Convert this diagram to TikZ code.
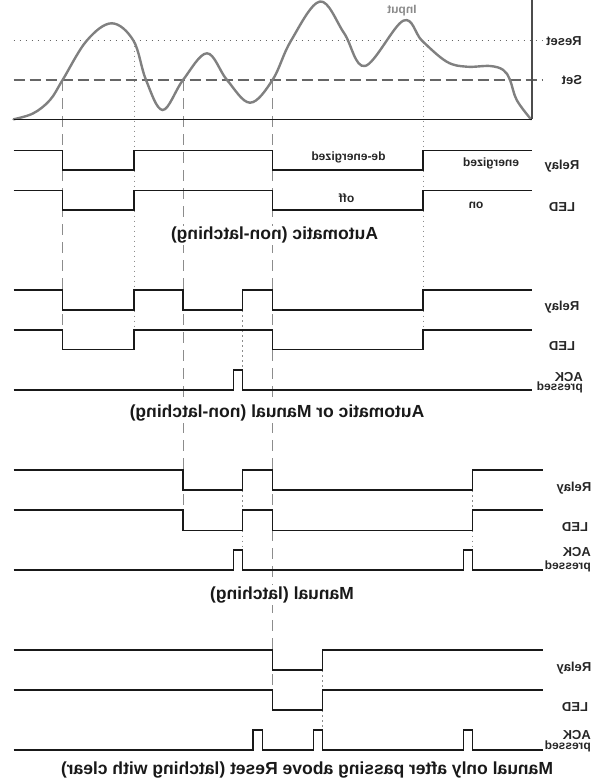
\documentclass[tikz,border=0pt]{standalone}
\usepackage{fontspec}
\setmainfont{Liberation Sans}
\usepackage{graphicx}
\begin{document}
\begin{tikzpicture}[x=1pt,y=-1pt,
  wave/.style={line width=1.5pt, draw=black!90, line join=miter},
  guidedash/.style={draw=black!45, line width=1pt, dash pattern=on 11pt off 7pt},
  guidedot/.style={draw=black!45, line width=1pt, dash pattern=on 1.5pt off 3.5pt},
  lbl/.style={font=\bfseries\fontsize{13}{13}\selectfont, text=black!85, inner sep=1pt},
  small/.style={font=\bfseries\fontsize{12}{12}\selectfont, text=black!85, inner sep=1pt, fill=white},
  captext/.style={font=\bfseries\fontsize{17.5}{18}\selectfont, fill=white, inner sep=1.5pt, text=black!90}]
\path[use as bounding box] (0,0) rectangle (610,784);

% thresholds and axis
\draw[draw=black!60, line width=1pt, dash pattern=on 1.5pt off 4.5pt] (13.5,40.7) -- (543,40.7);
\draw[draw=black!60, line width=1.4pt, dash pattern=on 11pt off 5pt] (13.5,80) -- (543,80);

% vertical guides
\draw[guidedash] (62.6,80) -- (62.6,330);
\draw[guidedot] (134,40.7) -- (134,330);
\draw[guidedash] (183,80) -- (183,510);
\draw[guidedash] (272.5,80) -- (272.5,690);
\draw[guidedot] (423,40.7) -- (423,330);
\draw[guidedot] (242.7,310) -- (242.7,370);
\draw[guidedot] (242.7,490) -- (242.7,510);
\draw[guidedot] (242.7,530.7) -- (242.7,550);
\draw[guidedot] (472.5,490) -- (472.5,510);
\draw[guidedot] (472.5,530.7) -- (472.5,550);
\draw[guidedot] (322.5,670) -- (322.5,690);
\draw[guidedot] (322.5,710) -- (322.5,730);

% input curve
\draw[draw=black!50, line width=2.4pt, line cap=round] plot[smooth, tension=0.6] coordinates {
 (13.5,119.3) (33.3,113.3) (50,100) (62.6,80) (86.7,40.7) (111.7,23.3) (133.5,40.7) (146,80)
 (162.7,110) (183,80) (207,53.3) (227,80) (250,102.7) (272.5,80) (291,40.7) (320,1.5)
 (344,33) (365,66) (403.3,20.7) (422,40.7) (446.7,61.7) (466.7,66.7) (490,66) (503.3,70)
 (510,80) (516.7,100) (531,119.3)};
\draw[line width=1.5pt, draw=black!90] (13.5,119.3) -- (532,119.3);
\draw[line width=2pt, draw=black!70] (532,0) -- (532,119.3);

\node[lbl, text=black!45, font=\bfseries\fontsize{12}{12}\selectfont] (input) at (402,11) {\reflectbox{Input}};
\node[lbl] (reset) at (564,40.7) {\reflectbox{Reset}};
\node[lbl] (set) at (572,80) {\reflectbox{Set}};

% panel 1
\draw[wave] (13.5,150.7) -- (62.6,150.7) -- (62.6,170) -- (134,170) -- (134,150.7) -- (272.5,150.7) -- (272.5,170) -- (423,170) -- (423,150.7) -- (532,150.7);
\draw[wave] (13.5,190.7) -- (62.6,190.7) -- (62.6,210) -- (134,210) -- (134,190.7) -- (272.5,190.7) -- (272.5,210) -- (423,210) -- (423,190.7) -- (532,190.7);
\node[small] (deen) at (348.5,157) {\reflectbox{de-energized}};
\node[small] (en) at (491,163.5) {\reflectbox{energized}};
\node[small] (off) at (346.6,198.3) {\reflectbox{off}};
\node[small] (on) at (476,205) {\reflectbox{on}};
\node[lbl] (relay1) at (562,166) {\reflectbox{Relay}};
\node[lbl] (led1) at (562,207) {\reflectbox{LED}};
\node[captext] (cap1) at (274.5,235.5) {\reflectbox{Automatic (non-latching)}};

% panel 2
\draw[wave] (13.5,290) -- (62.6,290) -- (62.6,310) -- (134,310) -- (134,290) -- (183,290) -- (183,310) -- (242.7,310) -- (242.7,290) -- (272.5,290) -- (272.5,310) -- (423,310) -- (423,290) -- (532,290);
\draw[wave] (13.5,330) -- (62.6,330) -- (62.6,349.3) -- (134,349.3) -- (134,330) -- (272.5,330) -- (272.5,349.3) -- (423,349.3) -- (423,330) -- (532,330);
\draw[wave] (13.5,390) -- (233.5,390) -- (233.5,370) -- (242.7,370) -- (242.7,390) -- (532,390);
\node[lbl] (relay2) at (562,306.7) {\reflectbox{Relay}};
\node[lbl] (led2) at (562,346) {\reflectbox{LED}};
\node[lbl, anchor=east] (ack2) at (584,376.7) {\reflectbox{ACK}};
\node[lbl, anchor=east, font=\bfseries\fontsize{12}{12}\selectfont] (pr2) at (584,387.3) {\reflectbox{pressed}};
\node[captext] (cap2) at (277,413) {\reflectbox{Automatic or Manual (non-latching)}};

% panel 3
\draw[wave] (13.5,470) -- (183,470) -- (183,490) -- (242.7,490) -- (242.7,470) -- (272.5,470) -- (272.5,490) -- (472.5,490) -- (472.5,470) -- (543,470);
\draw[wave] (13.5,510) -- (183,510) -- (183,530.7) -- (242.7,530.7) -- (242.7,510) -- (272.5,510) -- (272.5,530.7) -- (472.5,530.7) -- (472.5,510) -- (543,510);
\draw[wave] (13.5,570) -- (233.5,570) -- (233.5,550) -- (242.7,550) -- (242.7,570) -- (463.5,570) -- (463.5,550) -- (472.5,550) -- (472.5,570) -- (543,570);
\node[lbl] (relay3) at (574,488.3) {\reflectbox{Relay}};
\node[lbl] (led3) at (575,526.7) {\reflectbox{LED}};
\node[lbl, anchor=east] (ack3) at (592,551.7) {\reflectbox{ACK}};
\node[lbl, anchor=east, font=\bfseries\fontsize{12}{12}\selectfont] (pr3) at (592,566.7) {\reflectbox{pressed}};
\node[captext] (cap3) at (282,595) {\reflectbox{Manual (latching)}};

% panel 4
\draw[wave] (13.5,650) -- (272.5,650) -- (272.5,670) -- (322.5,670) -- (322.5,650) -- (543,650);
\draw[wave] (13.5,690) -- (272.5,690) -- (272.5,710) -- (322.5,710) -- (322.5,690) -- (543,690);
\draw[wave] (13.5,750) -- (253,750) -- (253,730) -- (262.5,730) -- (262.5,750) -- (313.5,750) -- (313.5,730) -- (322.5,730) -- (322.5,750) -- (463.5,750) -- (463.5,730) -- (472.5,730) -- (472.5,750) -- (543,750);
\node[lbl] (relay4) at (574,668.3) {\reflectbox{Relay}};
\node[lbl] (led4) at (575,707.3) {\reflectbox{LED}};
\node[lbl, anchor=east] (ack4) at (592,735) {\reflectbox{ACK}};
\node[lbl, anchor=east, font=\bfseries\fontsize{12}{12}\selectfont] (pr4) at (592,746.7) {\reflectbox{pressed}};
\node[captext] (cap4) at (307,770) {\reflectbox{Manual only after passing above Reset (latching with clear)}};
\end{tikzpicture}
\end{document}
